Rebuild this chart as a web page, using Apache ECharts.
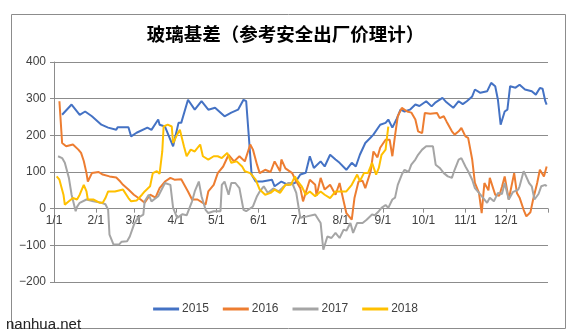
<!DOCTYPE html>
<html>
<head>
<meta charset="utf-8">
<script src="https://cdn.jsdelivr.net/npm/echarts@6/dist/echarts.min.js"></script>
<style>
html,body{margin:0;padding:0;background:#fff;}
#c{width:571px;height:335px;}
</style>
</head>
<body>
<div id="c"></div>
<script>
// ---- data (day of year, 0 = 1/1) ----
const monthLengths = [31,28,31,30,31,30,31,31,30,31,30,31];
const yTicks = [-200,-100,0,100,200,300,400];
const seriesNames = ['2015','2016','2017','2018'];

const day2015 = [6,13,19,23,28,35,40,46,47,55,57,61,69,72,77,78,82,88,92,94,99,104,109,114,119,126,131,136,140,142,144,146,149,154,161,163,168,173,178,182,186,189,192,197,200,204,208,211,216,220,223,226,230,234,236,241,245,247,250,253,256,259,263,267,270,275,279,282,287,290,295,299,302,305,309,311,315,320,323,326,328,330,333,335,337,338,341,344,348,353,356,359,361,363,364];
const val2015 = [256,284,256,265,252,229,221,215,222,222,197,207,221,215,243,229,224,170,234,234,297,270,293,270,275,252,262,270,297,293,194,93,74,74,79,61,74,65,70,93,98,143,111,129,115,147,134,125,106,125,115,147,179,194,202,229,234,243,221,243,270,265,270,284,280,293,279,290,302,290,275,293,285,293,306,325,316,320,343,334,297,229,265,270,334,338,330,338,325,320,311,329,327,293,284];

const day2016 = [4,6,9,14,18,20,22,24,25,28,33,36,41,46,49,51,55,59,64,67,71,75,78,82,86,89,94,99,102,106,112,114,118,121,125,129,133,137,141,145,147,150,152,156,160,163,167,168,171,176,179,182,184,189,193,194,197,200,204,208,211,214,216,220,222,225,228,230,234,236,239,241,245,248,250,252,254,257,261,264,267,269,272,274,278,283,285,288,290,294,296,299,301,304,306,309,311,314,316,318,321,322,326,329,331,333,336,340,342,344,347,349,352,354,357,359,362,364];
const val2016 = [293,179,170,175,161,152,130,97,74,97,100,93,88,85,74,65,52,38,25,16,38,30,56,74,84,79,80,47,25,25,11,47,65,97,115,147,129,143,129,175,161,120,97,106,100,129,102,134,110,97,74,56,20,79,65,35,84,52,65,38,70,20,-12,-30,29,74,76,56,102,156,140,166,188,188,143,200,252,275,265,262,243,211,206,261,259,261,247,252,238,211,202,211,220,197,193,134,70,43,-12,70,50,84,38,35,60,88,25,97,43,30,-3,-21,-10,25,70,106,88,115];

const day2017 = [3,6,8,11,13,16,17,19,24,29,35,38,40,41,44,48,50,54,56,59,62,66,67,70,72,77,82,86,88,91,95,98,102,104,107,109,112,114,118,123,124,126,129,131,134,137,140,142,147,150,152,155,158,162,166,169,173,176,179,181,182,187,193,197,198,199,202,205,208,211,214,216,219,221,224,228,231,235,237,240,242,245,247,250,252,254,257,259,262,264,267,269,272,275,280,282,285,288,291,294,296,299,301,304,306,309,311,314,316,320,322,325,328,331,333,336,339,343,344,347,348,351,353,355,358,360,363,364];
const val2017 = [143,138,125,84,38,-7,5,16,25,20,16,12,-3,-71,-98,-98,-90,-89,-76,-44,-25,-16,20,38,20,34,70,65,2,-25,-15,-18,20,47,74,34,-3,-12,-7,-7,65,74,38,70,70,56,-3,-7,6,34,47,61,43,55,47,58,70,70,43,-3,-25,-21,-16,-39,-76,-112,-76,-80,-66,-80,-57,-60,-39,-66,-39,-39,-30,-16,-18,-7,2,10,2,25,30,65,93,106,100,120,134,147,161,170,170,120,111,97,88,84,106,134,138,115,102,79,56,43,34,16,30,20,43,40,70,25,45,52,61,102,95,70,61,25,40,61,65,61];

const day2018 = [2,4,7,8,11,14,17,19,22,24,25,29,34,36,38,40,45,51,55,57,61,65,67,71,73,76,78,80,81,84,87,88,91,93,96,98,101,104,108,110,114,118,121,124,128,131,135,139,141,145,149,152,156,160,163,167,171,175,178,180,183,186,189,193,197,200,204,208,211,216,220,224,226,229,232,235,238,240,242,245,246,247];
const val2018 = [88,79,38,11,20,29,25,38,65,47,25,25,16,16,29,47,47,52,29,20,22,38,47,61,97,102,95,156,224,229,224,179,202,215,170,143,161,156,175,143,134,143,143,138,152,125,129,115,102,97,79,52,38,43,52,43,65,65,88,75,61,38,47,34,47,38,29,47,47,47,65,93,75,97,97,125,93,111,147,161,193,224];

const colors = ['#4472C4','#ED7D31','#A5A5A5','#FFC000'];

// ---- build ----
const cats = [];
monthLengths.forEach((n, m) => { for (let d = 1; d <= n; d++) cats.push((m + 1) + '/' + d); });
cats.push('1/1'); // end of year boundary
const lastIdx = cats.length - 1;

function pairs(days, vals) { return days.map((d, i) => [d, vals[i]]); }
const allDays = [day2015, day2016, day2017, day2018];
const allVals = [val2015, val2016, val2017, val2018];

const gridTop = 62, gridBottom = 53, H = 335;
const plotH = H - gridTop - gridBottom;
const yMin = yTicks[0], yMax = yTicks[yTicks.length - 1];
const zeroOffset = -plotH * (0 - yMin) / (yMax - yMin); // lift x axis to the zero line

const chart = echarts.init(document.getElementById('c'), null, {renderer: 'canvas'});
chart.setOption({
  animation: false,
  backgroundColor: '#fff',
  color: colors,
  title: {
    text: '玻璃基差（参考安全出厂价理计）',
    left: 'center', top: 20,
    textStyle: {fontFamily: '"Noto Sans CJK SC", sans-serif', fontSize: 18.5, fontWeight: 'bold', color: '#000'}
  },
  legend: {
    bottom: 15, left: 'center',
    icon: 'rect', itemWidth: 26, itemHeight: 3, itemGap: 14,
    textStyle: {fontFamily: 'Liberation Sans, Arial, sans-serif', fontSize: 12, color: '#404040', padding: [0,0,0,-2]},
    data: seriesNames
  },
  grid: {left: 54, right: 23, top: gridTop, bottom: gridBottom},
  xAxis: {
    type: 'category',
    data: cats,
    boundaryGap: false,
    position: 'bottom',
    offset: zeroOffset,
    axisLine: {onZero: false, lineStyle: {color: '#8c8c8c'}},
    axisTick: {show: true, interval: (i, v) => v.slice(-2) === '/1', length: 4, lineStyle: {color: '#8c8c8c'}},
    axisLabel: {
      interval: (i, v) => i < lastIdx && v.slice(-2) === '/1',
      fontFamily: 'Liberation Sans, Arial, sans-serif', fontSize: 12, color: '#404040', margin: 6
    },
    splitLine: {show: false}
  },
  yAxis: {
    type: 'value',
    min: yMin, max: yMax, interval: 100,
    axisLine: {show: true, lineStyle: {color: '#8c8c8c'}},
    axisTick: {show: true, length: 4, lineStyle: {color: '#8c8c8c'}},
    axisLabel: {
      formatter: v => String(v).replace('-', '\u2212'),
      fontFamily: 'Liberation Sans, Arial, sans-serif', fontSize: 12, color: '#404040', margin: 8
    },
    splitLine: {lineStyle: {color: '#8c8c8c', width: 1}}
  },
  series: seriesNames.map((name, k) => ({
    name: name,
    type: 'line',
    data: pairs(allDays[k], allVals[k]),
    showSymbol: false,
    symbol: 'none',
    lineStyle: {width: 2, color: colors[k]},
    z: 2 + k
  })),
  graphic: [
    {type: 'rect', left: 9, top: 12, shape: {width: 554, height: 314}, style: {fill: 'none', stroke: '#8c8c8c', lineWidth: 1}, silent: true, z: 0},
    {type: 'text', left: 6, top: 317, style: {text: 'nanhua.net', font: '15px "Liberation Sans", Arial, sans-serif', fill: '#222'}, z: 10}
  ]
});
</script>
</body>
</html>
